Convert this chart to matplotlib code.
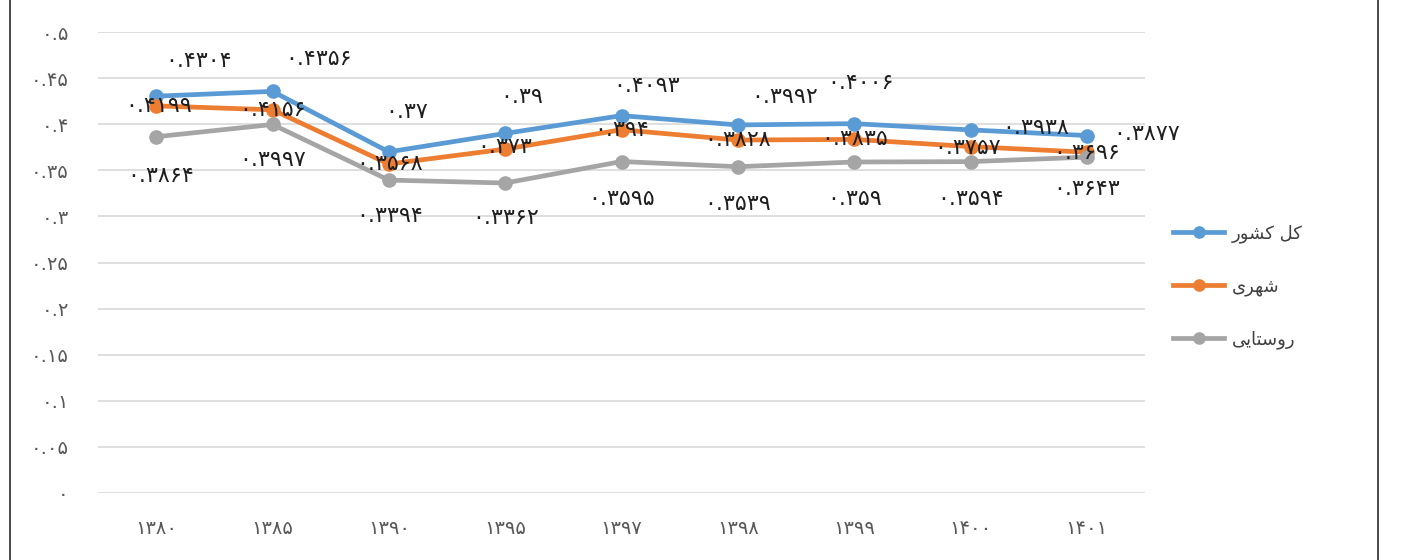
import matplotlib
matplotlib.use("Agg")
import matplotlib.pyplot as plt
from matplotlib.patches import Rectangle

# ---- data ----
years = ["1380", "1385", "1390", "1395", "1397", "1398", "1399", "1400", "1401"]
total = [0.4304, 0.4356, 0.37, 0.39, 0.4093, 0.3992, 0.4006, 0.3938, 0.3877]
urban = [0.4199, 0.4156, 0.3568, 0.373, 0.394, 0.3828, 0.3835, 0.3757, 0.3696]
rural = [0.3864, 0.3997, 0.3394, 0.3362, 0.3595, 0.3539, 0.359, 0.3594, 0.3643]
yticks = [0, 0.05, 0.1, 0.15, 0.2, 0.25, 0.3, 0.35, 0.4, 0.45, 0.5]
ytick_labels = ["0", "0.05", "0.1", "0.15", "0.2", "0.25", "0.3", "0.35", "0.4", "0.45", "0.5"]

# legend labels (Persian, pre-shaped presentation forms in visual order)
lbl_total = "\uFEAD\uFEEE\uFEB8\uFB90 \uFEDE\uFB90"      # کل کشور
lbl_urban = "\uFBFC\uFEAE\uFEEC\uFEB7"                    # شهری
lbl_rural = "\uFBFD\uFBFE\uFE8E\uFE98\uFEB3\uFEED\uFEAD"  # روستایی

# label offsets (pixels) for value labels
off_total = [(42, 35), (46, 32), (18, 40), (17, 36), (25, 30), (47, 28), (6, 41), (65, 2), (60, 2)]
off_urban = [(2, 0), (0, 0), (1, 0), (0, 2), (0, 0), (0, 0), (0, 0), (-3, -1), (0, -1)]
off_rural = [(4, -39), (0, -36), (1, -36), (0, -35), (0, -37), (0, -37), (0, -37), (0, -37), (0, -32)]

FA = str.maketrans("0123456789", "\u06F0\u06F1\u06F2\u06F3\u06F4\u06F5\u06F6\u06F7\u06F8\u06F9")
def fa(s):
    return s.translate(FA)

blue = "#5B9BD5"
orange = "#ED7D31"
gray = "#A5A5A5"

plt.rcParams['font.family'] = ['DejaVu Sans']
fig = plt.figure(figsize=(14.05, 5.6), dpi=100)
ax = fig.add_axes([98/1405, 1-493/560, (1145-98)/1405, (493-32)/560])

x = list(range(len(years)))
series = [(total, blue, lbl_total, off_total),
          (urban, orange, lbl_urban, off_urban),
          (rural, gray, lbl_rural, off_rural)]
handles = []
for vals, col, lbl, offs in series:
    h, = ax.plot(x, vals, color=col, lw=3.4, marker='o', ms=9.5, mec=col, mfc=col,
                 label=lbl, zorder=3)
    handles.append(h)
for vals, col, lbl, offs in series:
    for xi, v, (dx, dy) in zip(x, vals, offs):
        ax.annotate(fa(str(v)), (xi, v), xytext=(dx, dy), textcoords='offset pixels',
                    ha='center', va='center', fontsize=16, color='#1f1f1f', zorder=5)

ax.set_xlim(-0.5, len(years) - 0.5)
ax.set_ylim(0, 0.5)
ax.set_yticks(yticks)
ax.set_yticklabels([fa(t) for t in ytick_labels])
ax.set_xticks(x)
ax.set_xticklabels([fa(y) for y in years])
ax.tick_params(axis='both', length=0, labelsize=14, colors='#595959')
ax.tick_params(axis='y', pad=21)
ax.tick_params(axis='x', pad=19)
ax.grid(axis='y', color='#D9D9D9', lw=1.2)
ax.set_axisbelow(True)
for s in ax.spines.values():
    s.set_visible(False)

leg = fig.legend(handles=handles, loc='upper left', bbox_to_anchor=(1157/1405, 1-208/560),
                 frameon=False, fontsize=13, handlelength=2.8, handletextpad=0.45,
                 labelspacing=1.9, markerscale=0.85)
for t in leg.get_texts():
    t.set_color('#404040')

fig.add_artist(Rectangle((10/1405, -0.05), 1368/1405, 1.1, transform=fig.transFigure,
                         fill=False, ec='#3a3a3a', lw=1.3))

fig.savefig("out.png", dpi=100)
